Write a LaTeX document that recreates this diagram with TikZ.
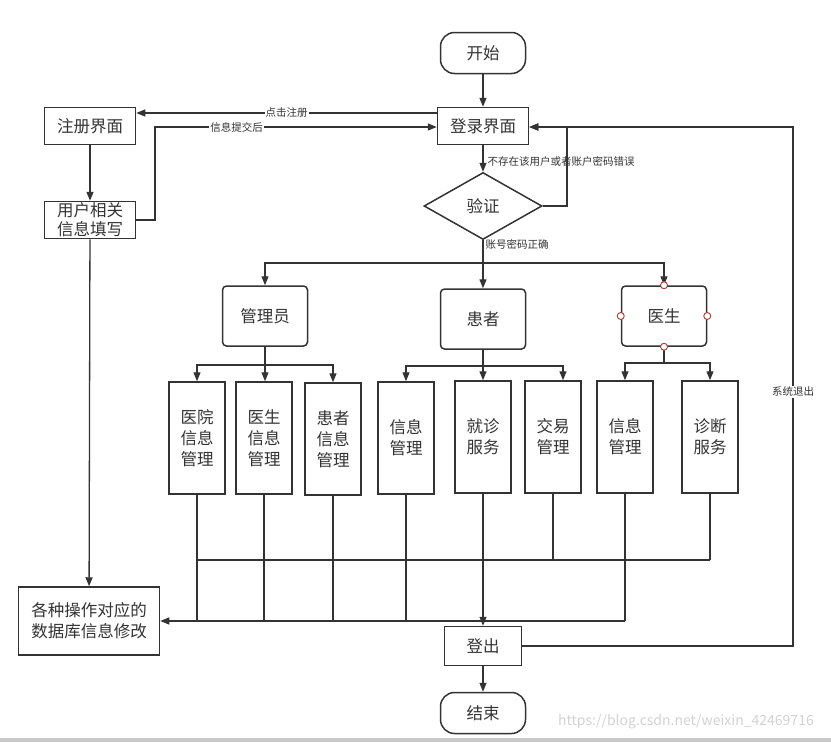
\documentclass[tikz,border=0pt]{standalone}
\usepackage{fontspec}
\setmainfont{Noto Sans CJK SC}
\usetikzlibrary{positioning,arrows.meta}
\usepackage{xcolor}
\definecolor{ink}{HTML}{333333}
\definecolor{handlered}{HTML}{B03A2E}
\definecolor{markgray}{HTML}{D2D2D2}
\definecolor{bargray}{HTML}{C8C8C8}
\tikzset{
	box/.style={draw=ink, line width=1.5pt, text=ink, inner sep=0pt, align=center,
		font=\fontsize{16.5}{21}\selectfont},
	terminal/.style={box, rounded corners=14pt, minimum width=85pt, minimum height=41pt},
	process/.style={box, minimum width=91pt, minimum height=37pt},
	decision/.style={box, shape=diamond, minimum width=118pt, minimum height=67pt, aspect=1.76},
	role/.style={box, rounded corners=4pt, minimum width=85pt, minimum height=60pt},
	task/.style={box, minimum width=56pt, minimum height=112pt},
	flow/.style={draw=ink, line width=1.3pt, -{Triangle[length=9pt,width=7pt]}},
	link/.style={draw=ink, line width=1.3pt},
	note/.style={text=ink, inner sep=1pt, font=\fontsize{10.5}{12}\selectfont},
	handle/.style={draw=handlered, fill=white, line width=0.9pt}
}
\usetikzlibrary{shapes.geometric}
\begin{document}
\begin{tikzpicture}[x=1pt,y=-1pt]
				\useasboundingbox (0,0) rectangle (831,742);
				% start and login
				\node[terminal] (start) at (483,53) {开始};
				\node[process] (login) at (483,126) {登录界面};
				\node[process] (register) at (90,126) {注册界面};
				\node[process, font=\fontsize{16.5}{19}\selectfont] (fill) at (90,220) {用户相关\\信息填写};
				\node[decision] (check) at (483,206) {验证};
				
				% roles
				\node[role] (admin) at (265,316) {管理员};
				\node[role] (patient) at (483,319) {患者};
				\node[role] (doctor) at (664,316) {医生};
				
				% tasks
				\node[task] (hosp) at (197,438) {医院\\信息\\管理};
				\node[task] (docinfo) at (264,438) {医生\\信息\\管理};
				\node[task] (patinfo) at (333,439) {患者\\信息\\管理};
				\node[task] (pinfo) at (406,438) {信息\\管理};
				\node[task] (visit) at (483,437) {就诊\\服务};
				\node[task] (trade) at (553,437) {交易\\管理};
				\node[task] (dinfo) at (625,437) {信息\\管理};
				\node[task] (diag) at (710,437) {诊断\\服务};
				
				% end
				\node[process, minimum width=141pt, minimum height=68pt] (db) at (89,621) {各种操作对应的\\数据库信息修改};
				\node[process, minimum width=77pt, minimum height=39pt] (logout) at (483,646) {登出};
				\node[terminal] (finish) at (483,713) {结束};
				
				\coordinate (back) at (155,127);
				\coordinate (retry) at (567,127);
				\coordinate (quit) at (793,127);
				\coordinate (split) at (483,263);
				\coordinate (asplit) at (265,365);
				\coordinate (psplit) at (483,366);
				\coordinate (dsplit) at (664,363);
				\coordinate (hub) at (483,560);
				
				\draw[flow] (start) -- (login);
				\draw[flow] ([yshift=13pt]login.west) -- node[note, fill=white] {点击注册} ([yshift=13pt]register.east);
				\draw[flow] (fill.east) -| (back) -- node[note, fill=white, pos=0.29] {信息提交后} (login.west |- back);
				\draw[flow] (register) -- (fill);
				\draw[flow] (login) -- node[note, anchor=west, pos=0.6, xshift=3pt] {不存在该用户或者账户密码错误} (check);
				\draw[flow] (check.east) -| (retry) -- (login.east |- retry);
				\draw[flow] (logout.east) -| node[note, fill=white, pos=0.745] {系统退出} (quit) -- (login.east |- quit);
				
				\draw[link] (check.south) -- node[note, anchor=west, pos=0.2, xshift=1pt] {账号密码正确} (split);
				\draw[flow] (split) -| (admin.north);
				\draw[flow] (split) -- (patient.north);
				\draw[flow] (split) -| (doctor.north);
				
				\draw[link] (admin.south) -- (asplit);
				\draw[flow] (asplit) -| (hosp.north);
				\draw[flow] (asplit) -- (docinfo.north -| asplit);
				\draw[flow] (asplit) -| (patinfo.north);
				\draw[link] (patient.south) -- (psplit);
				\draw[flow] (psplit) -| (pinfo.north);
				\draw[flow] (psplit) -- (visit.north);
				\draw[flow] (psplit) -| ([xshift=10pt]trade.north);
				\draw[link] (doctor.south) -- (dsplit);
				\draw[flow] (dsplit) -| (dinfo.north);
				\draw[flow] (dsplit) -| (diag.north);
				
				% buses
				\draw[link] (hosp.south) -- (hosp.south |- db.east);
				\draw[link] (docinfo.south) -- (docinfo.south |- db.east);
				\draw[link] (patinfo.south) -- (patinfo.south |- db.east);
				\draw[link] (pinfo.south) -- (pinfo.south |- db.east);
				\draw[link] (dinfo.south) -- (dinfo.south |- db.east);
				\draw[flow] (dinfo.south |- db.east) -- (db.east);
				\draw[link] (hosp.south |- hub) -- (diag.south |- hub);
				\draw[link] (visit.south) -- (hub);
				\draw[link] (trade.south) -- (trade.south |- hub);
				\draw[link] (diag.south) -- (diag.south |- hub);
				\draw[flow] (hub) -- (logout.north);
				\draw[flow] (logout) -- (finish);
				\draw[flow] (fill) -- (db);
				
				\foreach \side in {north,south,east,west}
					\draw[handle] (doctor.\side) circle (3.5pt);
				
				\node[text=markgray, font=\fontsize{14}{15}\selectfont] (mark) at (686,722) {https://blog.csdn.net/weixin\_42469716};
				\fill[bargray] (0,738) rectangle (831,742);
			\end{tikzpicture}
\end{document}
